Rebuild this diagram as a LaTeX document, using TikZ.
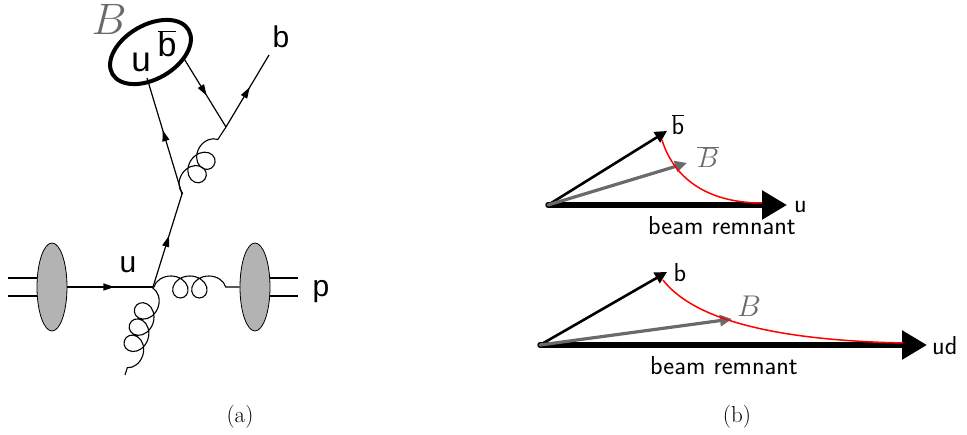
\RequirePackage{fix-cm}
\documentclass[tikz,border=0pt]{standalone}
\usepackage{fontspec}
\newfontfamily\arial{Liberation Sans}
\usetikzlibrary{arrows.meta,decorations.pathmorphing,decorations.markings,shapes.geometric,calc}
\definecolor{blobgray}{HTML}{B3B3B3}
\definecolor{vecgray}{HTML}{6A6A6A}
\begin{document}
\begin{tikzpicture}[x=1pt,y=-1pt,
  quark/.style={line width=1.2pt, postaction={decorate},
    decoration={markings, mark=at position 0.55 with {\arrow{Triangle[length=11pt,width=7pt]}}}},
  gluon/.style={line width=1.1pt, decorate,
    decoration={coil, amplitude=11pt, segment length=#1, aspect=1.1, pre length=1pt, post length=1pt}},
  gluon/.default=17pt,
  blob/.style={draw, line width=0.8pt, fill=blobgray, ellipse, inner sep=0pt, minimum width=30pt, minimum height=88pt},
  hel/.style={font=\arial\fontsize{30}{34}\selectfont, inner sep=0pt},
  lms/.style={font=\sffamily\fontsize{26}{30}\selectfont, inner sep=0pt},
  thinvec/.style={line width=2.6pt, -{Triangle[length=12pt,width=12pt]}, line cap=round},
  grayvec/.style={line width=3.2pt, vecgray, -{Triangle[length=12pt,width=11pt]}, line cap=round},
  thickvec/.style={line width=5.5pt, -{Triangle[length=25pt,width=28pt]}, line cap=round},
  redc/.style={red, line width=1.5pt},
  captext/.style={font=\fontsize{23}{26}\selectfont, inner sep=0pt, anchor=base}
]
\useasboundingbox (0,0) rectangle (967,435);

% ---------------- (a) ----------------
\coordinate (ll1) at (8,278);
\coordinate (ll2) at (8,296);
\coordinate (rl1) at (298,278);
\coordinate (rl2) at (298,296);
\coordinate (V1) at (153,287);
\coordinate (K) at (182,194);
\coordinate (V2) at (226,127);
\coordinate (Eu) at (147,78);
\coordinate (Eb) at (183,57);
\coordinate (bend) at (269,55);
\coordinate (gend) at (125,375);

\draw[line width=1.1pt] (ll1) -- (37,278);
\draw[line width=1.1pt] (ll2) -- (37,296);
\draw[line width=1.1pt] (rl1) -- (269,278);
\draw[line width=1.1pt] (rl2) -- (269,296);

\node[blob] (lb) at (52,287) {};
\node[blob] (rb) at (255,287) {};

\draw[quark] (lb.east) -- (V1);
\draw[gluon=19pt] (V1) -- (rb.west);
\draw[gluon=17pt] (V1) -- (gend);
\draw[quark] (V1) -- (K);
\draw[quark] (K) -- (Eu);
\draw[gluon=16pt] (K) -- (V2);
\draw[quark] (Eb) -- (V2);
\draw[quark] (V2) -- (bend);

\node[draw, ellipse, line width=4pt, inner sep=0pt, minimum width=88pt, minimum height=54pt, rotate=30] (Bm) at (150.5,52) {};

\node[hel, anchor=base] (lu) at (128,273) {u};
\node[hel, anchor=base] (lp) at (321,297) {p};
\node[hel, anchor=base] (lb2) at (281,48) {b};
\node[font=\arial\fontsize{35}{38}\selectfont, inner sep=0pt, anchor=base] (iu) at (141,72) {u};
\node[font=\arial\fontsize{34}{38}\selectfont, inner sep=0pt, anchor=base] (ib) at (167,57) {$\overline{\mbox{b}}$};
\node[font=\fontsize{44}{48}\selectfont, inner sep=0pt, anchor=base, text=vecgray] (lB) at (109,35) {$B$};

\node[captext] (capa) at (240,423) {(a)};

% ---------------- (b) top ----------------
\coordinate (O1) at (548,205);
\coordinate (bt) at (667,131);
\coordinate (Bt) at (687,163);
\coordinate (ut) at (787,205);

\draw[thickvec] (O1) -- (ut);
\draw[thinvec] (O1) -- (bt);
\draw[grayvec] (O1) -- (Bt);
\draw[redc] (662,140) .. controls (675,182) and (712,203) .. (762,203);

\node[lms, anchor=base west] (tu) at (794,213) {u};
\node[lms, anchor=base] (tbr) at (722,235) {beam remnant};
\node[lms, anchor=base] (tb) at (678,135) {$\overline{\mbox{b}}$};
\node[font=\fontsize{28}{32}\selectfont, inner sep=0pt, anchor=base, text=vecgray] (tB) at (708,168) {$\overline{B}$};

% ---------------- (b) bottom ----------------
\coordinate (O2) at (540,345);
\coordinate (bb) at (667,272);
\coordinate (Bb) at (732,319);
\coordinate (ub) at (927,345);

\draw[thickvec] (O2) -- (ub);
\draw[thinvec] (O2) -- (bb);
\draw[grayvec] (O2) -- (Bb);
\draw[redc] (663,280) .. controls (690,315) and (760,340) .. (903,343);

\node[lms, anchor=base] (bbl) at (680,282) {b};
\node[font=\fontsize{30}{34}\selectfont, inner sep=0pt, anchor=base, text=vecgray] (bB) at (749,317) {$B$};
\node[lms, anchor=base] (bbr) at (724,375) {beam remnant};
\node[lms, anchor=base west] (bud) at (932,355) {ud};

\node[captext] (capb) at (737,423) {(b)};
\end{tikzpicture}
\end{document}
